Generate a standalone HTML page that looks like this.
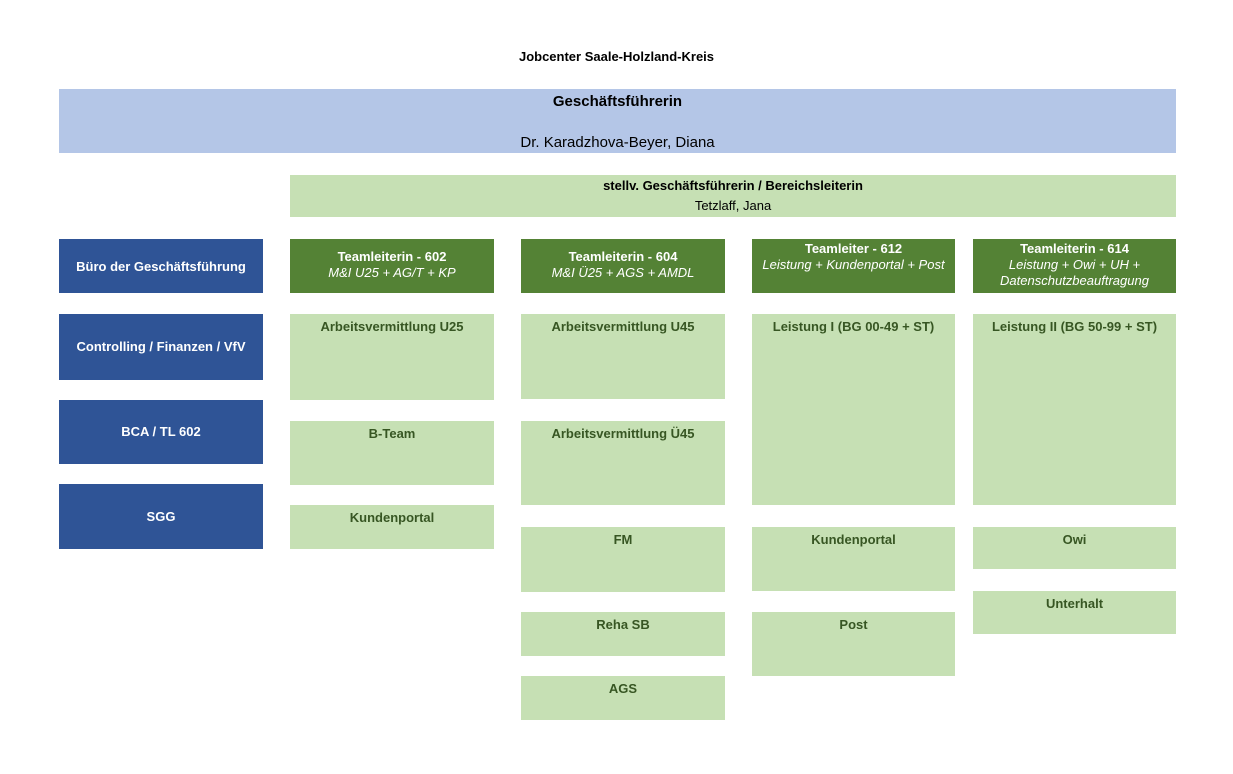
<!DOCTYPE html>
<html><head><meta charset="utf-8"><style>
body{margin:0;width:1233px;height:774px;background:#fff;position:relative;font-family:"Liberation Sans",Arial,sans-serif;overflow:hidden}
div.b{position:absolute;box-sizing:border-box;text-align:center}
.n{background:#2f5496;color:#fff;font-weight:bold;font-size:13px;display:flex;align-items:center;justify-content:center}
.h{background:#548235;color:#fff;font-size:13px;line-height:16px;padding-top:2px}
.h b{font-size:13px}
.h i{font-size:13px}
.l{background:#c6e0b4;color:#375623;font-weight:bold;font-size:13px;padding-top:5px;line-height:16px}
</style></head><body>
<div class="b" style="left:0;top:49px;width:1233px;font-size:13px;font-weight:bold;color:#000">Jobcenter Saale-Holzland-Kreis</div>
<div class="b" style="left:59px;top:89px;width:1117px;height:64px;background:#b4c6e7;color:#000">
<div style="position:absolute;left:0;right:0;top:4px;font-size:15px;font-weight:bold">Geschäftsführerin</div>
<div style="position:absolute;left:0;right:0;top:45px;font-size:15px">Dr. Karadzhova-Beyer, Diana</div></div>
<div class="b" style="left:290px;top:175px;width:886px;height:42px;background:#c6e0b4;color:#000;font-size:13px;line-height:20px;padding-top:1px"><b>stellv. Geschäftsführerin / Bereichsleiterin</b><br>Tetzlaff, Jana</div>

<div class="b n" style="left:59px;top:239px;width:204px;height:54px">Büro der Geschäftsführung</div>
<div class="b n" style="left:59px;top:314px;width:204px;height:66px;align-items:flex-start;padding-top:25px">Controlling / Finanzen / VfV</div>
<div class="b n" style="left:59px;top:400px;width:204px;height:64px;align-items:flex-start;padding-top:24px">BCA / TL 602</div>
<div class="b n" style="left:59px;top:484px;width:204px;height:65px">SGG</div>

<div class="b h" style="left:290px;top:239px;width:204px;height:54px;padding-top:10px"><b>Teamleiterin - 602</b><br><i>M&amp;I U25 + AG/T + KP</i></div>
<div class="b h" style="left:521px;top:239px;width:204px;height:54px;padding-top:10px"><b>Teamleiterin - 604</b><br><i>M&amp;I Ü25 + AGS + AMDL</i></div>
<div class="b h" style="left:752px;top:239px;width:203px;height:54px"><b>Teamleiter - 612</b><br><i>Leistung + Kundenportal + Post</i></div>
<div class="b h" style="left:973px;top:239px;width:203px;height:54px"><b>Teamleiterin - 614</b><br><i>Leistung + Owi + UH +<br>Datenschutzbeauftragung</i></div>

<div class="b l" style="left:290px;top:314px;width:204px;height:86px">Arbeitsvermittlung U25</div>
<div class="b l" style="left:290px;top:421px;width:204px;height:64px">B-Team</div>
<div class="b l" style="left:290px;top:505px;width:204px;height:44px">Kundenportal</div>

<div class="b l" style="left:521px;top:314px;width:204px;height:85px">Arbeitsvermittlung U45</div>
<div class="b l" style="left:521px;top:421px;width:204px;height:84px">Arbeitsvermittlung Ü45</div>
<div class="b l" style="left:521px;top:527px;width:204px;height:65px">FM</div>
<div class="b l" style="left:521px;top:612px;width:204px;height:44px">Reha SB</div>
<div class="b l" style="left:521px;top:676px;width:204px;height:44px">AGS</div>

<div class="b l" style="left:752px;top:314px;width:203px;height:191px">Leistung I (BG 00-49 + ST)</div>
<div class="b l" style="left:752px;top:527px;width:203px;height:64px">Kundenportal</div>
<div class="b l" style="left:752px;top:612px;width:203px;height:64px">Post</div>

<div class="b l" style="left:973px;top:314px;width:203px;height:191px">Leistung II (BG 50-99 + ST)</div>
<div class="b l" style="left:973px;top:527px;width:203px;height:42px">Owi</div>
<div class="b l" style="left:973px;top:591px;width:203px;height:43px">Unterhalt</div>
</body></html>
